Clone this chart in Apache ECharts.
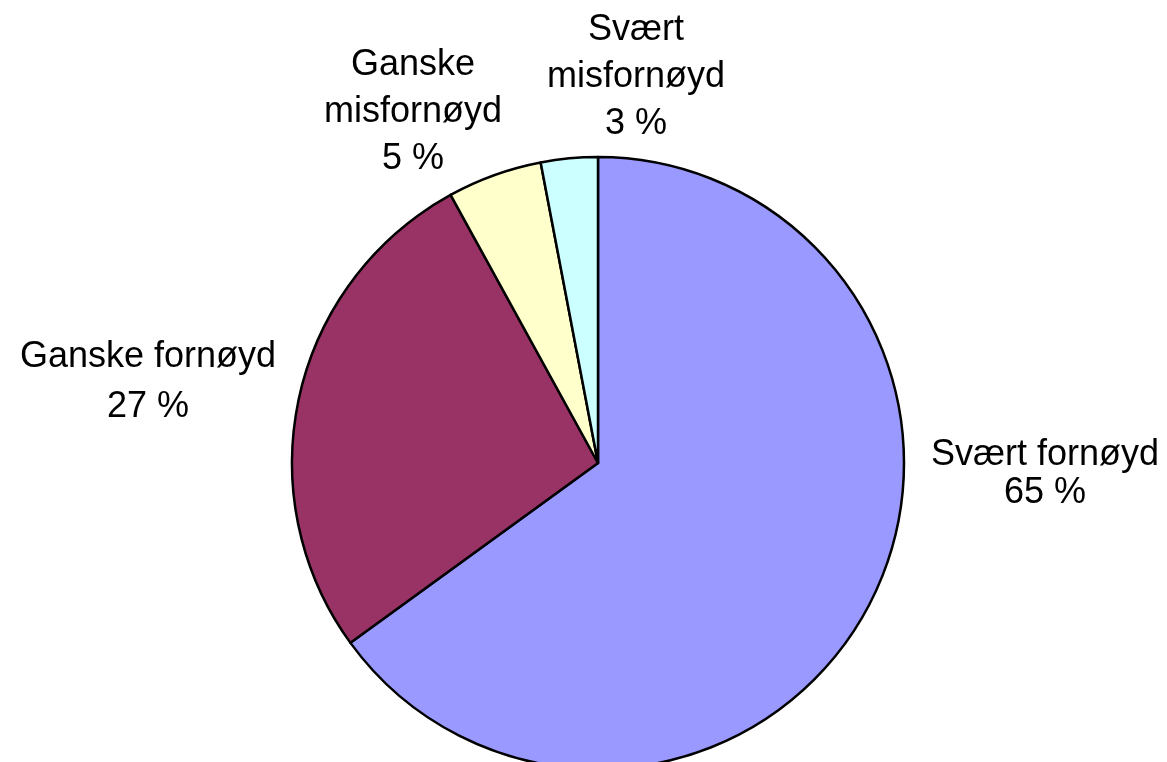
<!DOCTYPE html>
<html>
<head>
<meta charset="utf-8">
<script src="https://cdn.jsdelivr.net/npm/echarts@6/dist/echarts.min.js"></script>
<style>
  html, body { margin: 0; padding: 0; background: #ffffff; }
  #chart { width: 1167px; height: 762px; }
</style>
</head>
<body>
<div id="chart"></div>
<script>
// Satisfaction shares, clockwise from 12 o'clock
const categories = ['Svært fornøyd', 'Ganske fornøyd', 'Ganske misfornøyd', 'Svært misfornøyd'];
const shares = [65, 27, 5, 3];

const sliceColors = ['#9999FF', '#993366', '#FFFFCC', '#CCFFFF'];

// Pie geometry (px)
const CX = 598, CY = 463, R = 306;
// Label block centres, relative to the pie centre
const labelOffsets = [[447, 11], [-450, -81], [-185, -351], [38, -386]];
const labelLineHeights = [38, 50, 47, 47];
// Small slices get their name split over two lines
const splitNames = [false, false, true, true];

const chart = echarts.init(document.getElementById('chart'), null, { renderer: 'canvas' });

const data = categories.map((name, i) => ({
  name,
  value: shares[i],
  itemStyle: { color: sliceColors[i] },
  label: { lineHeight: labelLineHeights[i] }
}));

chart.setOption({
  backgroundColor: '#ffffff',
  animation: false,
  series: [{
    type: 'pie',
    center: [CX, CY],
    radius: R,
    startAngle: 90,
    clockwise: true,
    avoidLabelOverlap: false,
    itemStyle: { borderColor: '#000000', borderWidth: 2.5 },
    emphasis: { disabled: true },
    label: {
      show: true,
      position: 'outside',
      color: '#000000',
      fontFamily: 'Liberation Sans, Arial, sans-serif',
      fontSize: 36,
      align: 'center',
      formatter: p => (splitNames[p.dataIndex] ? p.name.replace(' ', '\n') : p.name) + '\n' + p.percent + ' %'
    },
    labelLine: { show: false },
    labelLayout: p => {
      const o = labelOffsets[p.dataIndex];
      return { x: CX + o[0], y: CY + o[1], align: 'center', verticalAlign: 'middle' };
    },
    data
  }]
});
</script>
</body>
</html>
